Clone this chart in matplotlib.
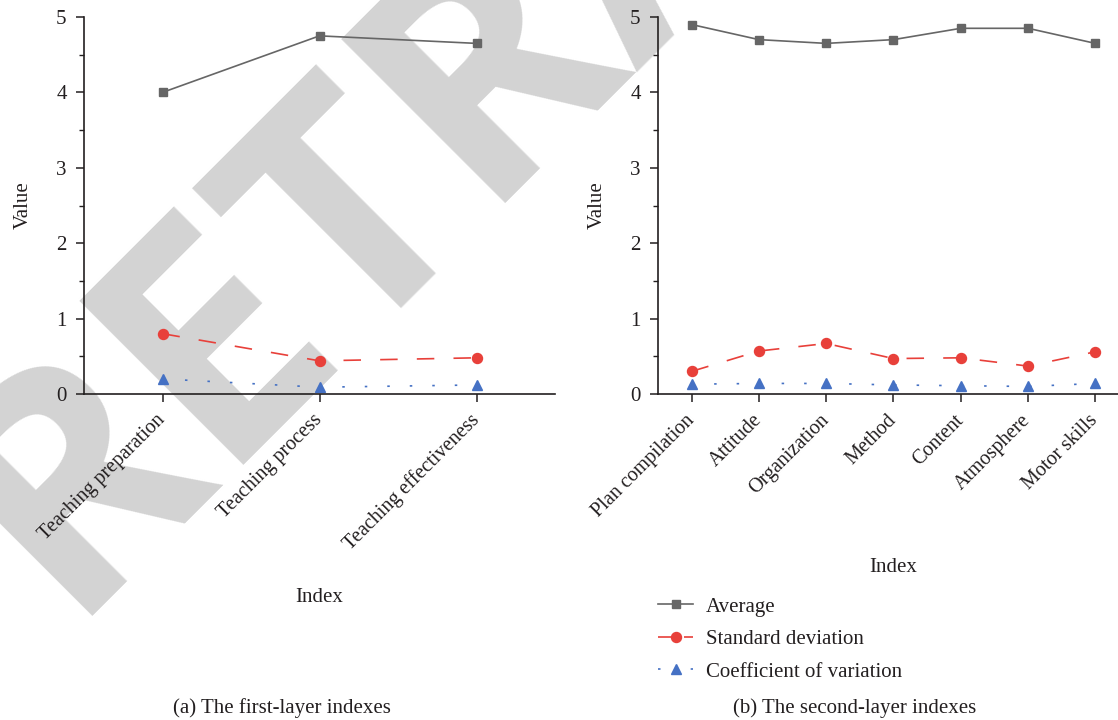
import matplotlib
matplotlib.use("Agg")
import matplotlib.pyplot as plt
from matplotlib.lines import Line2D
from matplotlib.ticker import MultipleLocator

plt.rcParams['font.family'] = ['Liberation Serif', 'DejaVu Serif']
plt.rcParams['font.size'] = 15
plt.rcParams['text.color'] = '#231f20'
plt.rcParams['axes.labelcolor'] = '#231f20'
plt.rcParams['xtick.color'] = '#231f20'
plt.rcParams['ytick.color'] = '#231f20'

# first-layer indexes
first_labels = ['Teaching preparation', 'Teaching process', 'Teaching effectiveness']
first_avg = [4.00, 4.75, 4.65]
first_sd = [0.80, 0.44, 0.48]
first_cv = [0.20, 0.09, 0.12]

# second-layer indexes
second_labels = ['Plan compilation', 'Attitude', 'Organization', 'Method',
                 'Content', 'Atmosphere', 'Motor skills']
second_avg = [4.90, 4.70, 4.65, 4.70, 4.85, 4.85, 4.65]
second_sd = [0.30, 0.57, 0.67, 0.47, 0.48, 0.37, 0.56]
second_cv = [0.13, 0.14, 0.14, 0.12, 0.11, 0.10, 0.14]

series_names = ['Average', 'Standard deviation', 'Coefficient of variation']
GRAY = '#666666'
RED = '#e8403a'
BLUE = '#4571c4'

W, H = 1118, 720
fig = plt.figure(figsize=(W / 100, H / 100), dpi=100)

# big diagonal watermark, kept behind both panels
fig.text(64 / W, 1 - 616 / H, 'RETRACTED', fontsize=234, fontweight='bold',
         family=['Open Sans', 'Liberation Sans'], color='#d3d3d3', rotation=45,
         rotation_mode='anchor', ha='left', va='baseline', zorder=-1)

# both panels share one size; the right one runs past the figure edge
ax1 = fig.add_axes([84 / W, 1 - 394 / H, 471 / W, 377 / H])
ax2 = fig.add_axes([658 / W, 1 - 394 / H, 471 / W, 377 / H])


def draw_panel(ax, labels, avg, sd, cv):
    x = list(range(1, len(labels) + 1))
    ax.plot(x, avg, color=GRAY, lw=1.2, marker='s', ms=6.2)
    ax.plot(x, sd, color=RED, lw=1.2, marker='o', ms=7.2, dashes=(10.5, 11.5))
    ax.plot(x, cv, color=BLUE, lw=1.2, marker='^', ms=7.5, dashes=(1.5, 12))
    ax.set_facecolor('none')
    ax.set_xlim(0.5, len(labels) + 0.5)
    ax.set_ylim(0, 5)
    ax.yaxis.set_major_locator(MultipleLocator(1))
    ax.yaxis.set_minor_locator(MultipleLocator(0.5))
    ax.set_xticks(x)
    ax.set_xticklabels(labels, rotation=45, ha='right', va='center',
                       rotation_mode='anchor', fontsize=14.5)
    for s in ['top', 'right']:
        ax.spines[s].set_visible(False)
    for s in ['left', 'bottom']:
        ax.spines[s].set_linewidth(1.2)
        ax.spines[s].set_color('#231f20')
    ax.tick_params(axis='both', direction='out', length=6, width=1.1)
    ax.tick_params(axis='y', which='minor', direction='out', length=3.5, width=1.0)
    ax.tick_params(axis='y', pad=6.5)
    ax.tick_params(axis='x', pad=11)
    ax.set_ylabel('Value', labelpad=17)


draw_panel(ax1, first_labels, first_avg, first_sd, first_cv)
ax1.set_xlabel('Index', labelpad=24)

draw_panel(ax2, second_labels, second_avg, second_sd, second_cv)
ax2.set_xlabel('Index', labelpad=27)

# shorter dash cycles so each legend sample shows the pattern around its marker
handles = [
    Line2D([], [], color=GRAY, lw=1.2, marker='s', ms=6.2),
    Line2D([], [], color=RED, lw=1.2, marker='o', ms=7.2, dashes=(7.8, 7.8)),
    Line2D([], [], color=BLUE, lw=1.2, marker='^', ms=7.5, dashes=(1.5, 8.3)),
]
fig.legend(handles, series_names, loc='upper left', bbox_to_anchor=(658 / W, 1 - 597 / H),
           frameon=False, handlelength=1.7, handletextpad=0.6, labelspacing=0.62,
           borderaxespad=0, borderpad=0)

fig.text(282 / W, 1 - 708 / H, '(a) The first-layer indexes', ha='center', va='center')
fig.text(855 / W, 1 - 708 / H, '(b) The second-layer indexes', ha='center', va='center')

fig.savefig('out.png', dpi=100)
